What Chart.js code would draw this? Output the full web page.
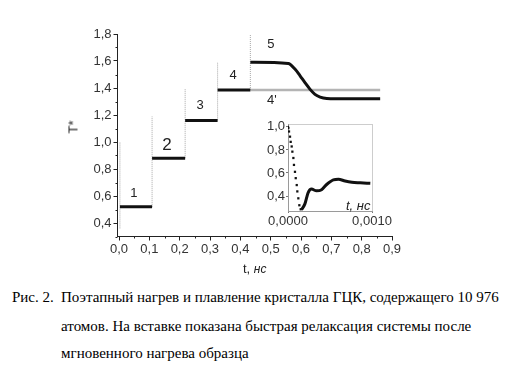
<!DOCTYPE html>
<html>
<head>
<meta charset="utf-8">
<script src="https://cdn.jsdelivr.net/npm/chart.js@4.4.0/dist/chart.umd.min.js"></script>
<style>
body { margin: 0; background: #fff; width: 508px; height: 386px; position: relative; overflow: hidden; font-family: "Liberation Sans", Arial, sans-serif; }
canvas { position: absolute; }
#main { left: 0; top: 0; }
#inset { left: 240px; top: 110px; }
.lbl { position: absolute; font-size: 13px; color: #222; white-space: nowrap; line-height: 14px; }
.cap { position: absolute; font-family: 'Liberation Serif', 'DejaVu Serif', serif; font-size: 15px; color: #000; white-space: nowrap; line-height: 16px; }
</style>
</head>
<body>
<canvas id="main" width="508" height="280"></canvas>
<canvas id="inset" width="160" height="125"></canvas>

<div class="lbl" style="left:67px;top:120px;transform:rotate(-90deg);">T*</div>
<div class="lbl" style="left:243px;top:262px;">t, <i style="font-size:12px">нс</i></div>
<div class="lbl" style="left:346px;top:199px;"><i>t, нс</i></div>

<div class="cap" style="left:12px;top:289px;">Рис. 2.</div>
<div class="cap" style="left:61px;top:289px;">Поэтапный нагрев и плавление кристалла ГЦК, содержащего 10 976</div>
<div class="cap" style="left:61px;top:318px;">атомов. На вставке показана быстрая релаксация системы после</div>
<div class="cap" style="left:61px;top:345px;">мгновенного нагрева образца</div>

<script>
// ==================== DATA ====================
// heating steps: time of heating, end of step, level after relaxation
const stepStart = [0.003, 0.109, 0.218, 0.325, 0.433];
const stepEnd = [0.109, 0.218, 0.325, 0.433];
const stepLevel = [0.52, 0.88, 1.16, 1.385, 1.59];
// grey spikes right after each heating
const spikeBottom = [0.36, 0.52, 0.88, 1.16, 1.385];
const spikeTop = [1.0, 1.19, 1.39, 1.59, 1.8];

// curve 5 (melting)
const t5 = [0.433, 0.558, 0.58, 0.597, 0.613, 0.63, 0.646, 0.663, 0.685, 0.751, 0.861];
const T5 = [1.59, 1.582, 1.54, 1.49, 1.44, 1.39, 1.353, 1.333, 1.323, 1.32, 1.32];

// curve 4' (step 4 continued without heating)
const t4p = [0.433, 0.861];
const T4p = [1.385, 1.385];

const stepLabels = ['1', '2', '3', '4', '5', "4'"];
const labelX = [0.049, 0.158, 0.267, 0.376, 0.501, 0.504];
const labelY = [0.622, 0.978, 1.274, 1.496, 1.726, 1.311];

const xTicks = [0, 0.1, 0.2, 0.3, 0.4, 0.5, 0.6, 0.7, 0.8, 0.9];
const yTicks = [0.4, 0.6, 0.8, 1.0, 1.2, 1.4, 1.6, 1.8];

// inset: fast relaxation after instant heating
const dropT = [0, 0.000004, 0.000012, 0.000024, 0.000032, 0.000044, 0.000052, 0.000064, 0.000071, 0.000083, 0.000092, 0.000104, 0.000111, 0.000123, 0.000135, 0.000151];
const dropY = [1.0, 0.99, 0.96, 0.915, 0.87, 0.83, 0.785, 0.73, 0.67, 0.61, 0.555, 0.495, 0.44, 0.38, 0.32, 0.285];
const riseT = [0.00016, 0.0002, 0.00024, 0.00028, 0.00034, 0.0004, 0.00046, 0.00054, 0.0006, 0.00068, 0.00076, 0.00086, 0.00098];
const riseY = [0.28, 0.33, 0.43, 0.46, 0.445, 0.455, 0.5, 0.54, 0.545, 0.53, 0.52, 0.515, 0.51];

const insetXTicks = [0, 0.0005, 0.001];
const insetYTicks = [0.4, 0.6, 0.8, 1.0];

// ==================== HELPERS ====================
const pts = (xs, ys) => xs.map((x, i) => ({ x: x, y: ys[i] }));
const comma = (v, d) => v.toFixed(d).replace('.', ',');
const tickFont = { family: '"Liberation Sans", Arial, sans-serif', size: 13 };

// minor ticks + step numbers
const mainExtras = {
    id: 'mainExtras',
    afterDraw(chart) {
        const ctx = chart.ctx;
        const xs = chart.scales.x, ys = chart.scales.y;
        const bottom = chart.chartArea.bottom, left = chart.chartArea.left;
        ctx.save();
        ctx.strokeStyle = '#222';
        ctx.lineWidth = 1;
        ctx.beginPath();
        for (let i = 0; i < xTicks.length - 1; i++) {
            const px = Math.round(xs.getPixelForValue((xTicks[i] + xTicks[i + 1]) / 2)) + 0.5;
            ctx.moveTo(px, bottom);
            ctx.lineTo(px, bottom + 2);
        }
        const minorY = [0.3].concat(yTicks.slice(0, -1).map((v, i) => (v + yTicks[i + 1]) / 2));
        minorY.forEach(v => {
            const py = Math.round(ys.getPixelForValue(v)) + 0.5;
            ctx.moveTo(left, py);
            ctx.lineTo(left - 2, py);
        });
        ctx.stroke();

        ctx.fillStyle = '#222';
        ctx.textAlign = 'center';
        ctx.textBaseline = 'middle';
        stepLabels.forEach((s, i) => {
            ctx.font = (s === '2' ? '17px' : '13px') + ' "Liberation Sans", Arial, sans-serif';
            ctx.fillText(s, xs.getPixelForValue(labelX[i]), ys.getPixelForValue(labelY[i]));
        });
        ctx.restore();
    }
};

// ==================== MAIN CHART ====================
const datasets = [];
stepEnd.forEach((e, i) => {
    datasets.push({
        data: [{ x: stepStart[i], y: stepLevel[i] }, { x: e, y: stepLevel[i] }],
        borderColor: '#111', borderWidth: 3, order: 0
    });
});
datasets.push({
    data: pts(t5, T5),
    borderColor: '#111', borderWidth: 3, cubicInterpolationMode: 'monotone', order: 0
});
datasets.push({
    data: pts(t4p, T4p),
    borderColor: '#b4b4b4', borderWidth: 2.5, order: 1
});
stepStart.forEach((s, i) => {
    datasets.push({
        data: [{ x: s, y: spikeBottom[i] }, { x: s, y: spikeTop[i] }],
        borderColor: '#a8a8a8', borderWidth: 1, borderDash: [1, 1], order: 2
    });
});

new Chart(document.getElementById('main'), {
    type: 'scatter',
    data: { datasets: datasets.map(d => Object.assign({ showLine: true, pointRadius: 0, fill: false }, d)) },
    options: {
        responsive: false,
        animation: false,
        layout: { padding: { left: 0, top: 34, right: 116, bottom: 0 } },
        plugins: { legend: { display: false }, tooltip: { enabled: false } },
        scales: {
            x: {
                type: 'linear', min: -0.005, max: 0.9,
                afterBuildTicks: s => { s.ticks = xTicks.map(v => ({ value: v })); },
                afterFit: s => { s.height = 43.5; },
                grid: { drawOnChartArea: false, tickLength: 4, tickColor: '#222' },
                border: { color: '#222', width: 1 },
                ticks: { padding: 1, color: '#333', font: tickFont, maxRotation: 0, callback: v => comma(v, 1) }
            },
            y: {
                type: 'linear', min: 0.3, max: 1.8,
                afterBuildTicks: s => { s.ticks = yTicks.map(v => ({ value: v })); },
                afterFit: s => { s.width = 117.5; },
                grid: { drawOnChartArea: false, tickLength: 4, tickColor: '#222' },
                border: { color: '#222', width: 1 },
                ticks: { padding: 2, color: '#333', font: tickFont, callback: v => comma(v, 1) }
            }
        }
    },
    plugins: [mainExtras]
});

// ==================== INSET ====================
const insetFrame = {
    id: 'insetFrame',
    afterDraw(chart) {
        const a = chart.chartArea, ctx = chart.ctx;
        ctx.save();
        ctx.strokeStyle = '#9a9a9a';
        ctx.lineWidth = 1;
        ctx.setLineDash([1, 1]);
        ctx.beginPath();
        ctx.moveTo(Math.round(a.left) + 0.5, Math.round(a.top) + 0.5);
        ctx.lineTo(Math.round(a.right) + 0.5, Math.round(a.top) + 0.5);
        ctx.lineTo(Math.round(a.right) + 0.5, Math.round(a.bottom) + 0.5);
        ctx.stroke();
        ctx.restore();
    }
};

new Chart(document.getElementById('inset'), {
    type: 'scatter',
    data: {
        datasets: [
            { data: pts(dropT, dropY), showLine: false, pointRadius: 1.6, pointStyle: 'rect',
              backgroundColor: '#111', borderColor: '#111', borderWidth: 0 },
            { data: pts(riseT, riseY), showLine: true, pointRadius: 0, borderColor: '#111',
              borderWidth: 3, cubicInterpolationMode: 'monotone' }
        ]
    },
    options: {
        responsive: false,
        animation: false,
        layout: { padding: { left: 0, top: 14, right: 28, bottom: 0 } },
        plugins: { legend: { display: false }, tooltip: { enabled: false } },
        scales: {
            x: {
                type: 'linear', min: 0, max: 0.001,
                afterBuildTicks: s => { s.ticks = insetXTicks.map(v => ({ value: v })); },
                afterFit: s => { s.height = 24; },
                grid: { drawOnChartArea: false, tickLength: 2, tickColor: '#777' },
                border: { color: '#9a9a9a', dash: [1, 1] },
                ticks: { padding: 1, color: '#333', font: tickFont, maxRotation: 0, callback: v => comma(v, 4) }
            },
            y: {
                type: 'linear', min: 0.27, max: 1.025,
                afterBuildTicks: s => { s.ticks = insetYTicks.map(v => ({ value: v })); },
                afterFit: s => { s.width = 48; },
                grid: { drawOnChartArea: false, tickLength: 2, tickColor: '#777' },
                border: { color: '#9a9a9a', dash: [1, 1] },
                ticks: { padding: 1, color: '#333', font: tickFont, callback: v => comma(v, 1) }
            }
        }
    },
    plugins: [insetFrame]
});
</script>
</body>
</html>
